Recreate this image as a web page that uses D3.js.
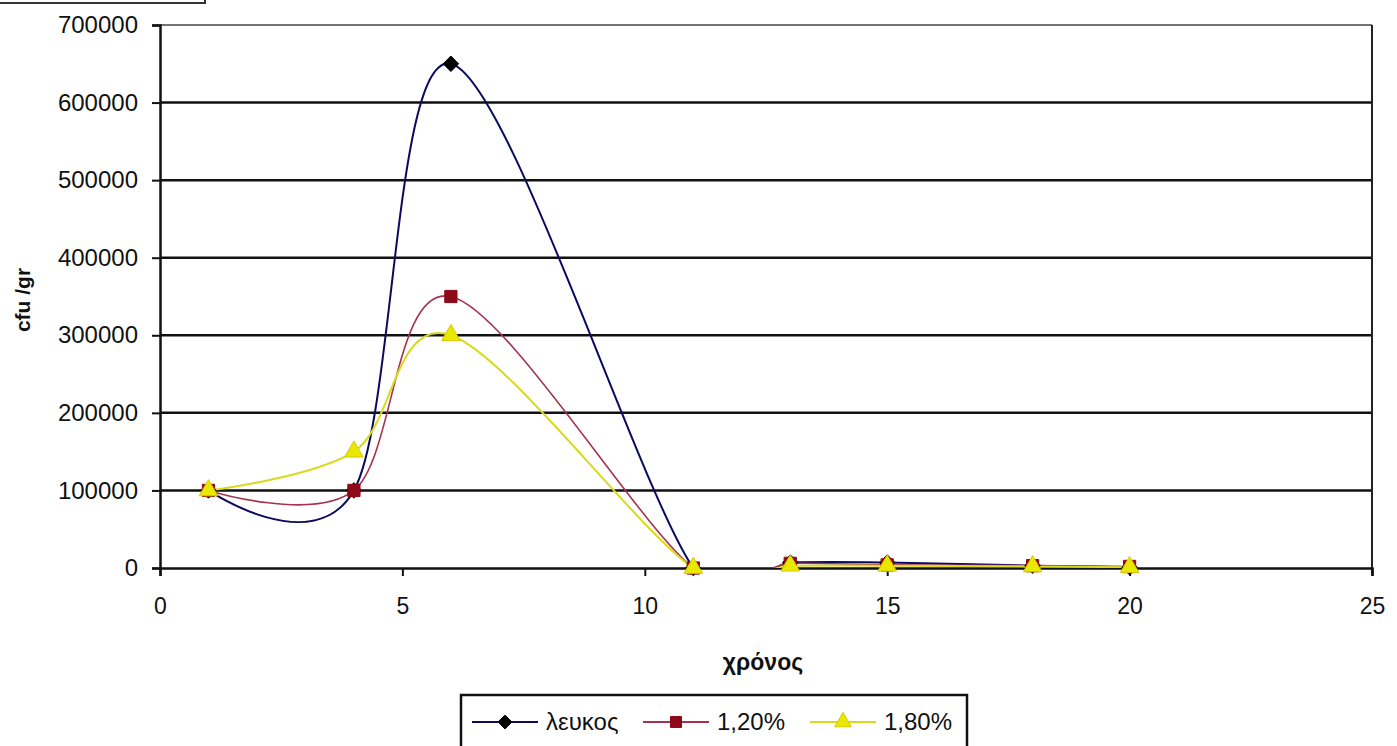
<!DOCTYPE html>
<html>
<head>
<meta charset="utf-8">
<script src="https://cdn.jsdelivr.net/npm/d3@7"></script>
<style>
  html, body { margin: 0; padding: 0; background: #fff; overflow: hidden; }
  svg { display: block; }
  text { font-family: "Liberation Sans", Arial, sans-serif; fill: #111; }
</style>
</head>
<body>
<div id="viz"></div>
<script>
// data
const days = [1, 4, 6, 11, 13, 15, 18, 20];
const leukos = [100000, 100000, 650000, 0, 7000, 7000, 3000, 1000];
const pct120 = [100000, 100000, 350000, 0, 6000, 4000, 3000, 2000];
const pct180 = [100000, 150000, 300000, 0, 3000, 3000, 2000, 1000];
const seriesNames = ["λευκος", "1,20%", "1,80%"];
const xTicks = [0, 5, 10, 15, 20, 25];
const yTicks = [0, 100000, 200000, 300000, 400000, 500000, 600000, 700000];

const width = 1397;
const height = 746;

const svg = d3.select("#viz")
    .append("svg")
    .attr("width", width)
    .attr("height", height);

const margin = {top: 25, right: 25, left: 160, bottom: 178};
const innerWidth = width - margin.left - margin.right;
const innerHeight = height - margin.top - margin.bottom;

const xScale = d3.scaleLinear().domain([0, 25]).range([0, innerWidth]);
const yScale = d3.scaleLinear().domain([0, 700000]).range([innerHeight, 0]);

// excel-style diamond: a square turned 45 degrees
const diamond = {
    draw(context, size) {
        const r = Math.sqrt(size / 2);
        context.moveTo(0, -r);
        context.lineTo(r, 0);
        context.lineTo(0, r);
        context.lineTo(-r, 0);
        context.closePath();
    }
};

const series = [
    {name: seriesNames[0], values: leukos, line: "#0a0a5e", fill: "#000", stroke: "#000", shape: diamond, size: 120, lw: 2},
    {name: seriesNames[1], values: pct120, line: "#a3334f", fill: "#8e0a18", stroke: "#8e0a18", shape: d3.symbolSquare, size: 150, lw: 1.6},
    {name: seriesNames[2], values: pct180, line: "#d9d91e", fill: "#e8e800", stroke: "#d6c800", shape: d3.symbolTriangle, size: 150, lw: 2}
];

// scrap of a box border at the very top-left
svg.append("path")
    .attr("d", "M0,3 H205 V0")
    .attr("fill", "none")
    .attr("stroke", "#333")
    .attr("stroke-width", 2);

const g = svg.append("g")
    .attr("transform", `translate(${margin.left}, ${margin.top})`);

g.append("clipPath").attr("id", "plotclip")
    .append("rect")
    .attr("width", innerWidth)
    .attr("height", innerHeight);

// gridlines
g.selectAll(".grid").data(yTicks.slice(1))
    .enter().append("line")
        .attr("x1", 0)
        .attr("x2", innerWidth)
        .attr("y1", d => yScale(d))
        .attr("y2", d => yScale(d))
        .attr("stroke", (d, i) => i === yTicks.length - 2 ? "#444" : "#111")
        .attr("stroke-width", (d, i) => i === yTicks.length - 2 ? 1.5 : 2.5);

// right border of the plot area
g.append("line")
    .attr("x1", innerWidth).attr("x2", innerWidth)
    .attr("y1", 0).attr("y2", innerHeight + 6)
    .attr("stroke", "#222").attr("stroke-width", 2);

// y axis
const yAxis = g.append("g").call(d3.axisLeft(yScale).tickValues(yTicks).tickSize(8).tickPadding(14).tickFormat(d3.format("d")));
yAxis.select(".domain").attr("stroke", "#111").attr("stroke-width", 2.5);
yAxis.selectAll(".tick line").attr("stroke", "#111").attr("stroke-width", 2);
yAxis.selectAll("text")
    .attr("font-size", 24)
    .attr("fill", "#111")
    .style("font-family", "'Liberation Sans', Arial, sans-serif");

// x axis
const xAxis = g.append("g")
    .attr("transform", `translate(0, ${innerHeight})`)
    .call(d3.axisBottom(xScale).tickValues(xTicks).tickSize(8).tickPadding(22));
xAxis.select(".domain").attr("stroke", "#111").attr("stroke-width", 2.5);
xAxis.selectAll(".tick line").attr("stroke", "#111").attr("stroke-width", 2);
xAxis.selectAll("text")
    .attr("font-size", 23)
    .attr("fill", "#111")
    .style("font-family", "'Liberation Sans', Arial, sans-serif");

// axis titles
svg.append("text")
    .attr("transform", "translate(30, 300) rotate(-90)")
    .attr("text-anchor", "middle")
    .attr("font-size", 21)
    .attr("font-weight", "bold")
    .text("cfu /gr");

svg.append("text")
    .attr("x", 763)
    .attr("y", 670)
    .attr("text-anchor", "middle")
    .attr("font-size", 23)
    .attr("font-weight", "bold")
    .text("χρόνος");

// smoothed lines, clipped to the plot area like the original
const lineGen = d3.line()
    .x((d, i) => xScale(days[i]))
    .y(d => yScale(d))
    .curve(d3.curveCatmullRom.alpha(0));

const lines = g.append("g").attr("clip-path", "url(#plotclip)");
series.forEach(s => {
    lines.append("path")
        .attr("d", lineGen(s.values))
        .attr("fill", "none")
        .attr("stroke", s.line)
        .attr("stroke-width", s.lw);
});

series.forEach(s => {
    g.append("g").selectAll("path").data(s.values)
        .enter().append("path")
            .attr("transform", (d, i) => `translate(${xScale(days[i])}, ${yScale(d)})`)
            .attr("d", d3.symbol().type(s.shape).size(s.size))
            .attr("fill", s.fill)
            .attr("stroke", s.stroke)
            .attr("stroke-width", 1);
});

// legend
const legend = svg.append("g").attr("transform", "translate(461, 695)");
legend.append("rect")
    .attr("width", 506)
    .attr("height", 70)
    .attr("fill", "#fff")
    .attr("stroke", "#111")
    .attr("stroke-width", 2.5);

const legendX = [11, 182, 349];
series.forEach((s, i) => {
    const item = legend.append("g").attr("transform", `translate(${legendX[i]}, 27)`);
    item.append("line")
        .attr("x1", 0).attr("x2", 66)
        .attr("stroke", s.line).attr("stroke-width", 2);
    item.append("path")
        .attr("transform", "translate(33, 0)")
        .attr("d", d3.symbol().type(s.shape).size(s.size * 0.8))
        .attr("fill", s.fill)
        .attr("stroke", s.stroke);
    item.append("text")
        .attr("x", 74)
        .attr("dy", "0.35em")
        .attr("font-size", 24)
        .text(s.name);
});
</script>
</body>
</html>
